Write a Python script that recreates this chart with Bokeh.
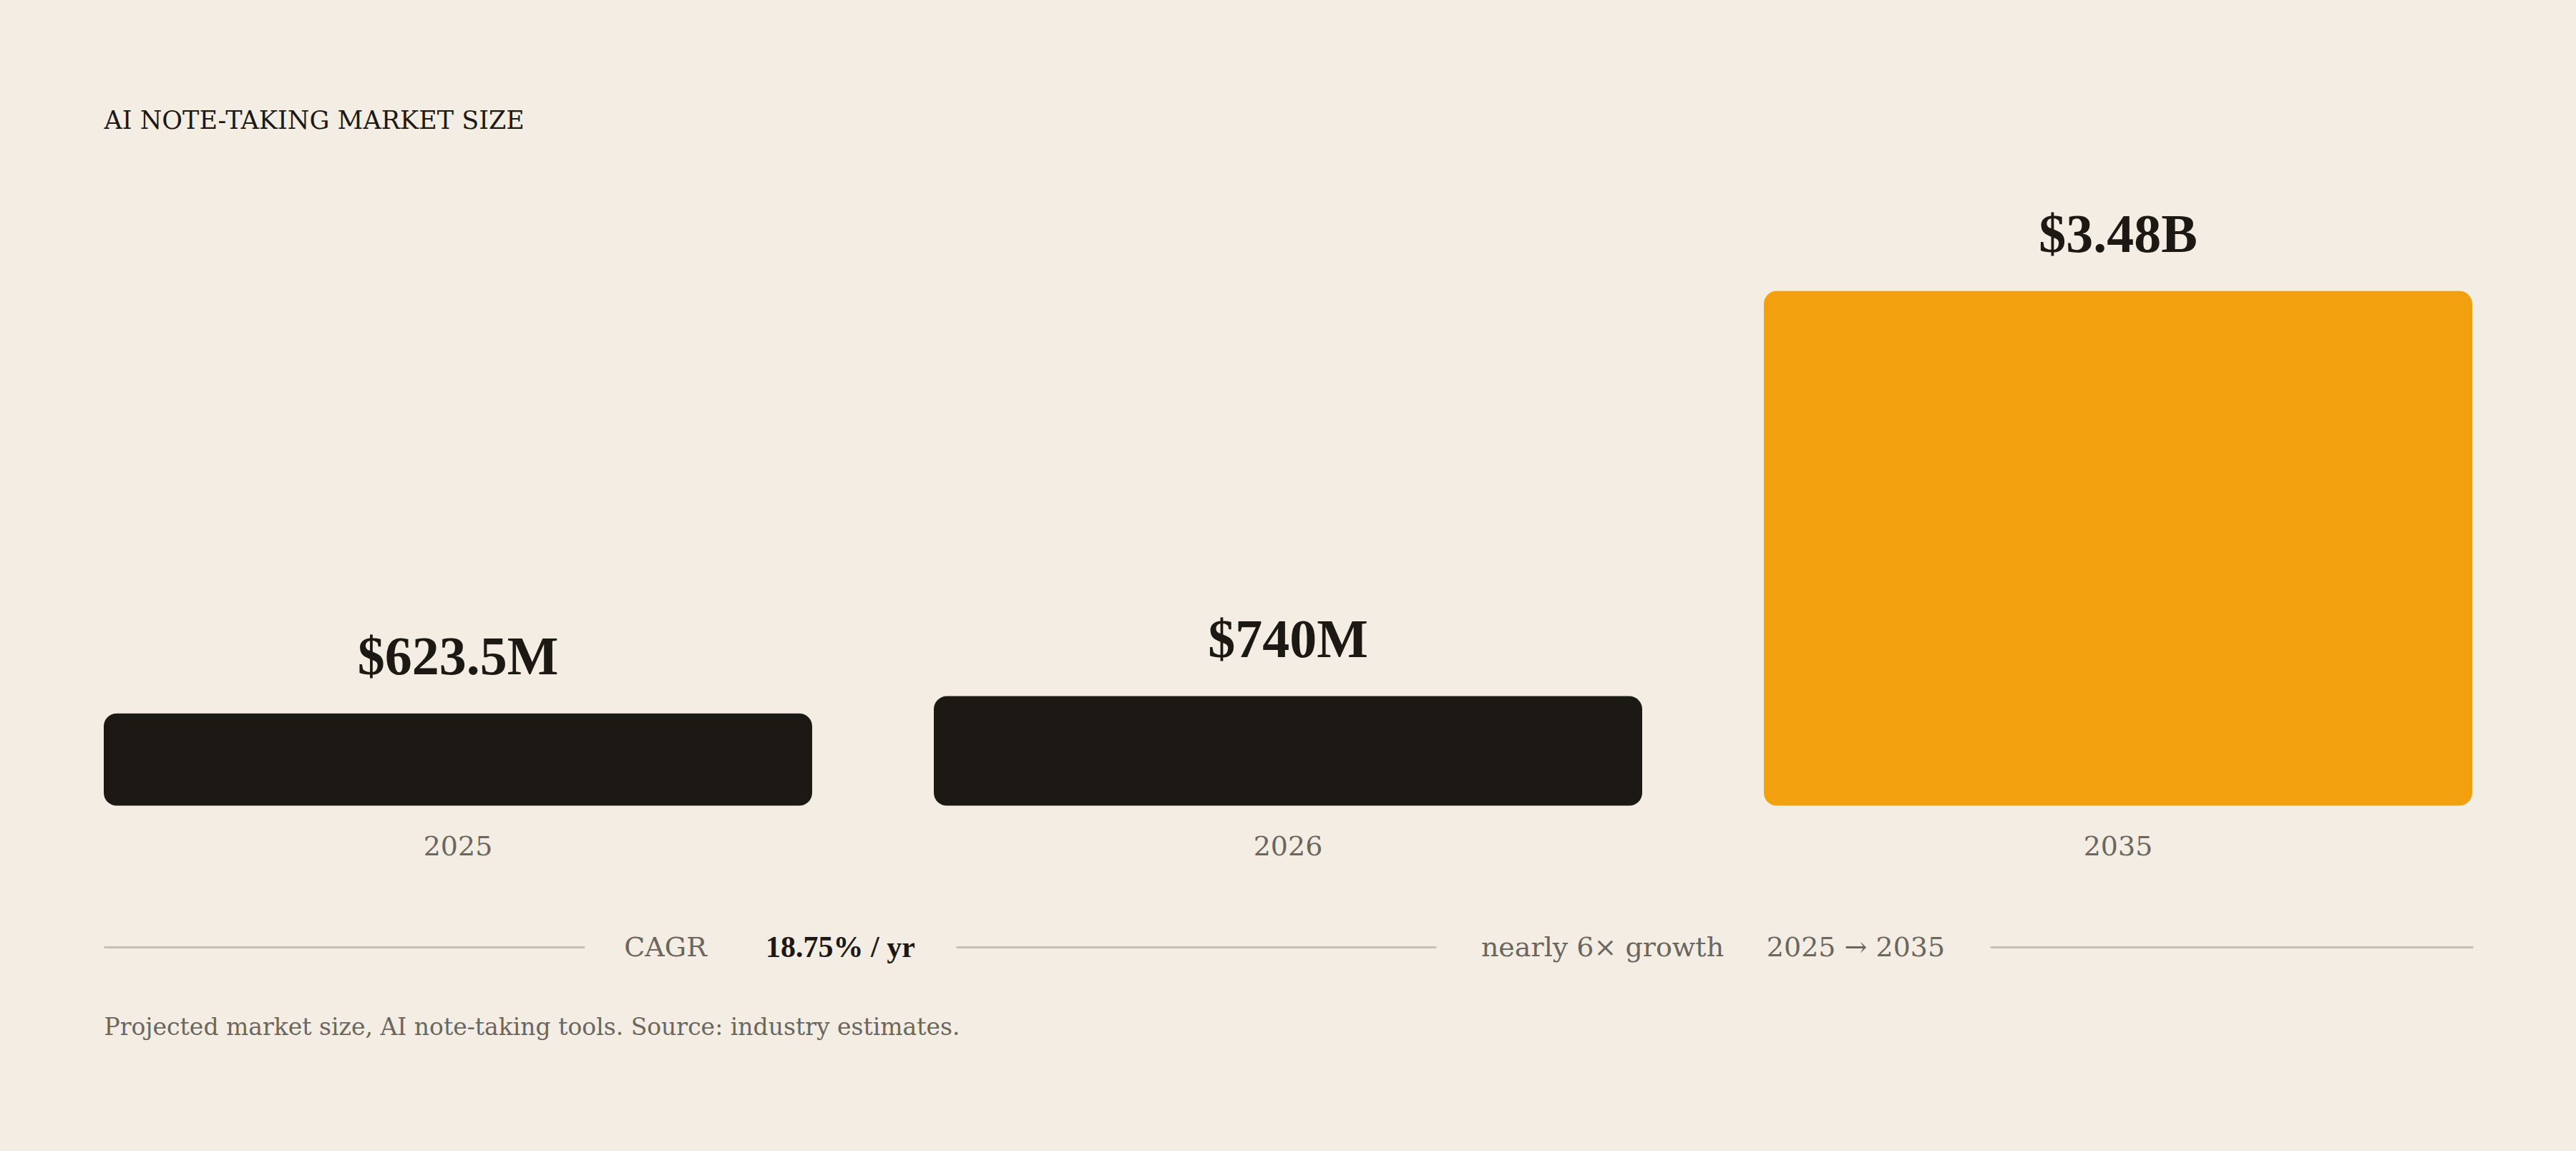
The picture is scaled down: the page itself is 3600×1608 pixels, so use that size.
from bokeh.plotting import figure
from bokeh.models import ColumnDataSource, Label, Range1d
from bokeh.core.properties import value
from bokeh.embed import file_html
from bokeh.resources import INLINE

# data
years = ["2025", "2026", "2035"]
market_musd = [623.5, 740.0, 3480.0]  # market size, $ millions
value_labels = ["$623.5M", "$740M", "$3.48B"]
bar_colors = ["#1c1814", "#1c1814", "#f3a00e"]

title_text = "AI NOTE-TAKING MARKET SIZE"
cagr_label = "CAGR"
cagr_value = "18.75% / yr"
growth_note = "nearly 6\u00d7 growth"
growth_span = "2025 \u2192 2035"
footnote = "Projected market size, AI note-taking tools. Source: industry estimates."

BG = "#f4ede3"
INK = "#1c1814"
MUTED = "#6b665e"
RULE = "#c9c0b5"
SERIF = "Liberation Serif"
WIDE = "DejaVu Serif"   # stands in for the letter-spaced text

# layout, in page pixels
W, H = 3600, 1608
step = 1160        # px between bar centres
bar_w = 990        # px
first_x = 639.5    # centre of first bar
base_y = 1125      # zero line, from top
top_y = 406        # top of the tallest bar, from top
ppu = (base_y - top_y) / max(market_musd)   # px per $M


def fx(px):
    return (px - first_x) / step


def fy(py):
    return (base_y - py) / ppu


src = ColumnDataSource(dict(
    x=list(range(len(years))),
    year=years,
    value=market_musd,
    label=value_labels,
    label_y=[v + 81 / ppu for v in market_musd],
    color=bar_colors,
))

p = figure(width=W, height=H, x_range=Range1d(fx(0), fx(W)), y_range=Range1d(fy(H), fy(0)),
           x_axis_type=None, y_axis_type=None, toolbar_location=None, tools="",
           output_backend="svg", min_border=0, background_fill_color=BG,
           border_fill_color=BG, outline_line_color=None)

p.vbar(x="x", top="value", bottom=0, width=bar_w / step, fill_color="color",
       line_color=None, border_radius=18, source=src)

p.text(x="x", y="label_y", text="label", source=src, text_font=value(SERIF),
       text_font_style="bold", text_font_size="76px", text_color=INK,
       text_align="center", text_baseline="middle")

p.text(x="x", y=fy(1181), text="year", source=src, text_font=value(WIDE),
       text_font_size="38px", text_color=MUTED, text_align="center",
       text_baseline="middle")

# title
p.add_layout(Label(x=fx(145), y=fy(167), text=title_text, text_font=WIDE,
                   text_font_size="35px", text_color=INK, text_align="left",
                   text_baseline="middle"))

# CAGR row with rules
rule_y = fy(1323)
p.segment(x0=[fx(145), fx(1336), fx(2781)], y0=[rule_y] * 3,
          x1=[fx(817), fx(2007), fx(3456)], y1=[rule_y] * 3,
          line_color=RULE, line_width=3)

row_y = fy(1322)
for cx, txt, font, size, col, style in [
        (929.5, cagr_label, WIDE, "38px", MUTED, "normal"),
        (1174, cagr_value, SERIF, "42px", INK, "bold"),
        (2239, growth_note, WIDE, "38px", MUTED, "normal"),
        (2593, growth_span, WIDE, "38px", MUTED, "normal")]:
    p.add_layout(Label(x=fx(cx), y=row_y, text=txt, text_font=font,
                       text_font_size=size, text_font_style=style, text_color=col,
                       text_align="center", text_baseline="middle"))

p.add_layout(Label(x=fx(145), y=fy(1434), text=footnote, text_font=WIDE,
                   text_font_size="33px", text_color=MUTED, text_align="left",
                   text_baseline="middle"))

html = file_html(p, INLINE, title="AI note-taking market size")
html = html.replace("</head>", "<style>body{background:%s;}</style></head>" % BG, 1)
open("out.html", "w").write(html)
